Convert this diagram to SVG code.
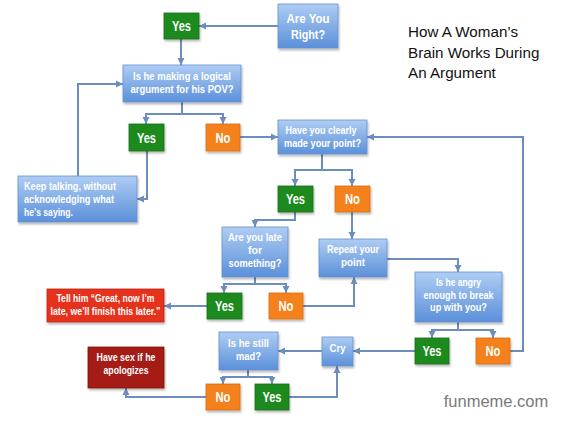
<svg xmlns="http://www.w3.org/2000/svg" width="586" height="423" viewBox="0 0 586 423">
<defs>
<linearGradient id="gb" x1="0" y1="0" x2="0" y2="1">
<stop offset="0" stop-color="#aecdf3"/>
<stop offset="1" stop-color="#5b90da"/>
</linearGradient>
<filter id="sh" x="-20%" y="-20%" width="140%" height="150%">
<feDropShadow dx="1" dy="2" stdDeviation="1.2" flood-color="#000" flood-opacity="0.28"/>
</filter>
<marker id="ah" markerUnits="userSpaceOnUse" markerWidth="8" markerHeight="8" refX="7" refY="4" orient="auto">
<path d="M0,0.5 L7,4 L0,7.5 Z" fill="#6c8ebf"/>
</marker>
<style>
.b{fill:url(#gb);stroke:#6690cc;stroke-width:0.8;filter:url(#sh)}
.g{fill:#1d8a1d;stroke:#176c17;stroke-width:0.8;filter:url(#sh)}
.o{fill:#f5811f;stroke:#d86c12;stroke-width:0.8;filter:url(#sh)}
.r{fill:#e5321d;stroke:#c42414;stroke-width:0.8;filter:url(#sh)}
.d{fill:#a51b12;stroke:#80130c;stroke-width:0.8;filter:url(#sh)}
text{font-family:"Liberation Sans",Arial,sans-serif;font-weight:bold;fill:#fff;text-anchor:middle}
.t{font-size:11px}
.yn{font-size:14px}
.big{font-size:13px}
.title{font-family:"Liberation Sans",Arial,sans-serif;font-weight:normal;fill:#111;font-size:15.2px;text-anchor:start}
.wm{font-family:"Liberation Sans",Arial,sans-serif;font-weight:normal;fill:#7a7a7a;font-size:16.5px}
#conn path{fill:none;stroke:#6c8ebf;stroke-width:2}
</style>
</defs>
<rect width="586" height="423" fill="#fff"/>

<g id="conn">
<path d="M278,26 H199" marker-end="url(#ah)"/>
<path d="M181,39 V65" marker-end="url(#ah)"/>
<path d="M78,176 V84 H123" marker-end="url(#ah)"/>
<path d="M182,102 V114 H146 V124" marker-end="url(#ah)"/>
<path d="M182,114 H223 V124" marker-end="url(#ah)"/>
<path d="M240,137 H278" marker-end="url(#ah)"/>
<path d="M147,151 V199 H137" marker-end="url(#ah)"/>
<path d="M322,154 V170 H295 V186" marker-end="url(#ah)"/>
<path d="M322,170 H352 V186" marker-end="url(#ah)"/>
<path d="M295,212 V220 H255 V227" marker-end="url(#ah)"/>
<path d="M352,212 V239" marker-end="url(#ah)"/>
<path d="M387,259 H458 V272" marker-end="url(#ah)"/>
<path d="M255,277 V284 H224 V293" marker-end="url(#ah)"/>
<path d="M255,284 H286 V293" marker-end="url(#ah)"/>
<path d="M303,306 H354 V277" marker-end="url(#ah)"/>
<path d="M207,306 H164" marker-end="url(#ah)"/>
<path d="M458,322 V330 H432 V338" marker-end="url(#ah)"/>
<path d="M458,330 H493 V338" marker-end="url(#ah)"/>
<path d="M510,351 H523 V137 H367" marker-end="url(#ah)"/>
<path d="M415,351 H353" marker-end="url(#ah)"/>
<path d="M322,351 H278" marker-end="url(#ah)"/>
<path d="M248,370 V377 H223 V384" marker-end="url(#ah)"/>
<path d="M248,377 H272 V384" marker-end="url(#ah)"/>
<path d="M289,397 H337 V366" marker-end="url(#ah)"/>
<path d="M206,397 H126 V388" marker-end="url(#ah)"/>
</g>

<g id="areyou"><rect class="b" x="278" y="4" width="60" height="44"/><text class="big" x="308" y="23" textLength="43" lengthAdjust="spacingAndGlyphs">Are You</text><text class="big" x="308" y="38.5" textLength="34" lengthAdjust="spacingAndGlyphs">Right?</text></g>
<g id="yes1"><rect class="g" x="164" y="13" width="35" height="26"/><text class="yn" x="181.5" y="31" textLength="19" lengthAdjust="spacingAndGlyphs">Yes</text></g>
<g id="logical"><rect class="b" x="123" y="65" width="118" height="37"/><text class="t" x="182" y="80" textLength="98" lengthAdjust="spacingAndGlyphs">Is he making a logical</text><text class="t" x="182" y="93" textLength="103" lengthAdjust="spacingAndGlyphs">argument for his POV?</text></g>
<g id="yes2"><rect class="g" x="129" y="124" width="35" height="27"/><text class="yn" x="146.5" y="142.5" textLength="19" lengthAdjust="spacingAndGlyphs">Yes</text></g>
<g id="no1"><rect class="o" x="206" y="124" width="34" height="27"/><text class="yn" x="223" y="142.5" textLength="15" lengthAdjust="spacingAndGlyphs">No</text></g>
<g id="have"><rect class="b" x="278" y="120" width="89" height="34"/><text class="t" x="321" y="134" textLength="71" lengthAdjust="spacingAndGlyphs">Have you clearly</text><text class="t" x="322.5" y="147" textLength="77" lengthAdjust="spacingAndGlyphs">made your point?</text></g>
<g id="keep"><rect class="b" x="18" y="176" width="119" height="46"/><text class="t" x="24" y="190" style="text-anchor:start" textLength="92" lengthAdjust="spacingAndGlyphs">Keep talking, without</text><text class="t" x="24" y="203" style="text-anchor:start" textLength="90" lengthAdjust="spacingAndGlyphs">acknowledging what</text><text class="t" x="24" y="215.5" style="text-anchor:start" textLength="49" lengthAdjust="spacingAndGlyphs">he’s saying.</text></g>
<g id="yes3"><rect class="g" x="278" y="186" width="35" height="26"/><text class="yn" x="295.5" y="204" textLength="19" lengthAdjust="spacingAndGlyphs">Yes</text></g>
<g id="no2"><rect class="o" x="335" y="186" width="35" height="26"/><text class="yn" x="352.5" y="204" textLength="15" lengthAdjust="spacingAndGlyphs">No</text></g>
<g id="late"><rect class="b" x="222" y="227" width="66" height="50"/><text class="t" x="255" y="241" textLength="54" lengthAdjust="spacingAndGlyphs">Are you late</text><text class="t" x="255" y="254" textLength="14" lengthAdjust="spacingAndGlyphs">for</text><text class="t" x="255" y="267" textLength="53" lengthAdjust="spacingAndGlyphs">something?</text></g>
<g id="repeat"><rect class="b" x="319" y="239" width="68" height="38"/><text class="t" x="353" y="253" textLength="52" lengthAdjust="spacingAndGlyphs">Repeat your</text><text class="t" x="353" y="266" textLength="24" lengthAdjust="spacingAndGlyphs">point</text></g>
<g id="angry"><rect class="b" x="415" y="272" width="87" height="50"/><text class="t" x="458.5" y="286" textLength="45" lengthAdjust="spacingAndGlyphs">Is he angry</text><text class="t" x="458.5" y="298.5" textLength="70" lengthAdjust="spacingAndGlyphs">enough to break</text><text class="t" x="458.5" y="311" textLength="57" lengthAdjust="spacingAndGlyphs">up with you?</text></g>
<g id="yes4"><rect class="g" x="207" y="293" width="35" height="26"/><text class="yn" x="224.5" y="311" textLength="19" lengthAdjust="spacingAndGlyphs">Yes</text></g>
<g id="no3"><rect class="o" x="269" y="293" width="34" height="26"/><text class="yn" x="286" y="311" textLength="15" lengthAdjust="spacingAndGlyphs">No</text></g>
<g id="tell"><rect class="r" x="47" y="289" width="117" height="33"/><text class="t" x="105.5" y="302" textLength="98" lengthAdjust="spacingAndGlyphs">Tell him “Great, now I’m</text><text class="t" x="105.5" y="314.5" textLength="110" lengthAdjust="spacingAndGlyphs">late, we’ll finish this later.”</text></g>
<g id="yes5"><rect class="g" x="415" y="338" width="34" height="26"/><text class="yn" x="432" y="356" textLength="19" lengthAdjust="spacingAndGlyphs">Yes</text></g>
<g id="no4"><rect class="o" x="476" y="338" width="34" height="26"/><text class="yn" x="493" y="356" textLength="15" lengthAdjust="spacingAndGlyphs">No</text></g>
<g id="cry"><rect class="b" x="322" y="337" width="31" height="29"/><text class="t" x="337.5" y="352" textLength="16" lengthAdjust="spacingAndGlyphs">Cry</text></g>
<g id="mad"><rect class="b" x="219" y="332" width="59" height="38"/><text class="t" x="248.5" y="347" textLength="41" lengthAdjust="spacingAndGlyphs">Is he still</text><text class="t" x="248.5" y="359.5" textLength="25" lengthAdjust="spacingAndGlyphs">mad?</text></g>
<g id="sex"><rect class="d" x="88" y="347" width="76" height="41"/><text class="t" x="126" y="361" textLength="59" lengthAdjust="spacingAndGlyphs">Have sex if he</text><text class="t" x="126" y="373.5" textLength="45" lengthAdjust="spacingAndGlyphs">apologizes</text></g>
<g id="no5"><rect class="o" x="206" y="384" width="34" height="26"/><text class="yn" x="223" y="402" textLength="15" lengthAdjust="spacingAndGlyphs">No</text></g>
<g id="yes6"><rect class="g" x="255" y="384" width="34" height="26"/><text class="yn" x="272" y="402" textLength="19" lengthAdjust="spacingAndGlyphs">Yes</text></g>

<g id="title"><text class="title" x="408" y="37">How A Woman’s</text><text class="title" x="408" y="57.5">Brain Works During</text><text class="title" x="408" y="78">An Argument</text></g>
<text class="wm" x="496" y="407">funmeme.com</text>
</svg>
